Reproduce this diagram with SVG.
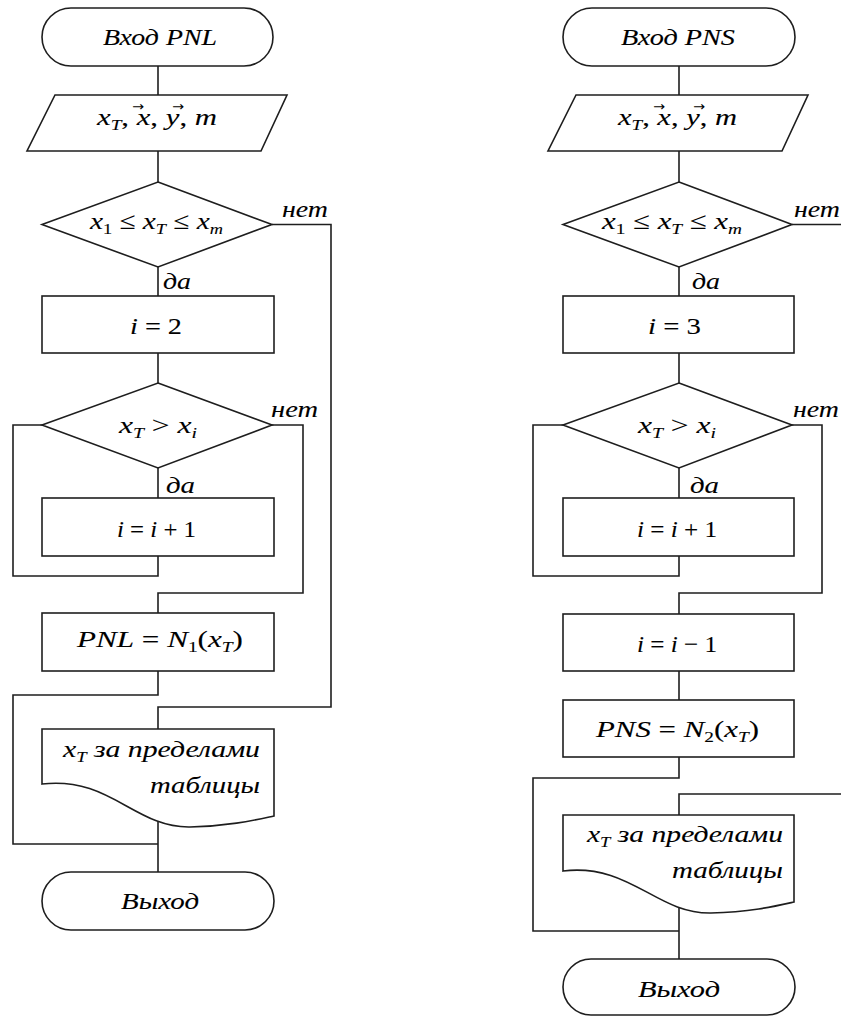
<svg xmlns="http://www.w3.org/2000/svg" width="841" height="1016" viewBox="0 0 841 1016">
<style>
.ln{fill:none;stroke:#1e1e1e;stroke-width:1.6}
.sh{fill:#fff;stroke:#1e1e1e;stroke-width:1.6}
.t{font-family:"Liberation Serif","Times New Roman","DejaVu Serif",serif;font-size:24px;fill:#000;stroke:#000;stroke-width:0.1}
.i{font-style:italic}
.sub{font-size:15px}
.ar{font-family:"DejaVu Sans","Liberation Sans",sans-serif;font-size:13px;fill:#000}
</style>
<rect width="841" height="1016" fill="#fff"/>
<g id="connectors">
<path class="ln" d="M158,66V95M158,151V182M158,267V296M158,353V383M158,468V498"/>
<path class="ln" d="M158,556V576H13V425H42"/>
<path class="ln" d="M272,425H303V593H158V613"/>
<path class="ln" d="M158,671V695H13V844H158"/>
<path class="ln" d="M272,224.5H331V707H158V729"/>
<path class="ln" d="M158,821V872"/>
<path class="ln" d="M679,66V95M679,151V182M679,267V296M679,353V383M679,468V498"/>
<path class="ln" d="M679,556V576H533V425H563"/>
<path class="ln" d="M792,425H822V593H679V614"/>
<path class="ln" d="M679,671V700"/>
<path class="ln" d="M679,757V778H533V931H679"/>
<path class="ln" d="M792,224.5H841"/>
<path class="ln" d="M841,794H679V815"/>
<path class="ln" d="M679,907V959"/>
</g>
<g id="L-start"><rect class="sh" x="42" y="8" width="231" height="58" rx="29"/>
<text class="t i" x="103" y="45" textLength="114" lengthAdjust="spacingAndGlyphs">Вход PNL</text></g>
<g id="L-input"><polygon class="sh" points="55,95 287,95 261,151 27,151"/>
<text class="t" x="97" y="125" textLength="120" lengthAdjust="spacingAndGlyphs"><tspan class="i">x</tspan><tspan class="sub i" dy="5">T</tspan><tspan dy="-5">, </tspan><tspan class="i">x</tspan><tspan>, </tspan><tspan class="i">y</tspan><tspan>, </tspan><tspan class="i">m</tspan></text>
<text class="ar" x="132" y="111" textLength="12" lengthAdjust="spacingAndGlyphs">→</text>
<text class="ar" x="172" y="111" textLength="12" lengthAdjust="spacingAndGlyphs">→</text></g>
<g id="L-cond1"><polygon class="sh" points="158,182 272,224.5 158,267 42,224.5"/>
<text class="t" x="90" y="229" textLength="133" lengthAdjust="spacingAndGlyphs"><tspan class="i">x</tspan><tspan class="sub" dy="5">1</tspan><tspan dy="-5"> ≤ </tspan><tspan class="i">x</tspan><tspan class="sub i" dy="5">T</tspan><tspan dy="-5"> ≤ </tspan><tspan class="i">x</tspan><tspan class="sub i" dy="5">m</tspan></text>
<text class="t i" x="282" y="217" textLength="46" lengthAdjust="spacingAndGlyphs">нет</text>
<text class="t i" x="163" y="289" textLength="28" lengthAdjust="spacingAndGlyphs">да</text></g>
<g id="L-init"><rect class="sh" x="42" y="296" width="232" height="57"/>
<text class="t" x="130" y="334" textLength="52" lengthAdjust="spacingAndGlyphs"><tspan class="i">i</tspan> = 2</text></g>
<g id="L-cond2"><polygon class="sh" points="158,383 272,425 158,468 42,425"/>
<text class="t" x="119" y="433" textLength="78" lengthAdjust="spacingAndGlyphs"><tspan class="i">x</tspan><tspan class="sub i" dy="5">T</tspan><tspan dy="-5"> &gt; </tspan><tspan class="i">x</tspan><tspan class="sub i" dy="5">i</tspan></text>
<text class="t i" x="271" y="417" textLength="47" lengthAdjust="spacingAndGlyphs">нет</text>
<text class="t i" x="166" y="493" textLength="29" lengthAdjust="spacingAndGlyphs">да</text></g>
<g id="L-inc"><rect class="sh" x="42" y="498" width="232" height="58"/>
<text class="t" x="117" y="537" textLength="79" lengthAdjust="spacingAndGlyphs"><tspan class="i">i</tspan> = <tspan class="i">i</tspan> + 1</text></g>
<g id="L-calc"><rect class="sh" x="42" y="613" width="232" height="58"/>
<text class="t" x="77" y="647" textLength="166" lengthAdjust="spacingAndGlyphs"><tspan class="i">PNL</tspan> = <tspan class="i">N</tspan><tspan class="sub" dy="5">1</tspan><tspan dy="-5">(</tspan><tspan class="i">x</tspan><tspan class="sub i" dy="5">T</tspan><tspan dy="-5">)</tspan></text></g>
<g id="L-msg"><path class="sh" d="M42,729H274V816C255,820 230,826 190,827C135,828 110,776 42,784Z"/>
<text class="t i" x="63" y="757" textLength="197" lengthAdjust="spacingAndGlyphs">x<tspan class="sub" dy="5">T</tspan><tspan dy="-5"> за пределами</tspan></text>
<text class="t i" x="150" y="793" textLength="110" lengthAdjust="spacingAndGlyphs">таблицы</text></g>
<g id="L-end"><rect class="sh" x="42" y="872" width="232" height="58" rx="29"/>
<text class="t i" x="121" y="909" textLength="78" lengthAdjust="spacingAndGlyphs">Выход</text></g>

<g id="R-start"><rect class="sh" x="563" y="8" width="232" height="58" rx="29"/>
<text class="t i" x="621" y="45" textLength="114" lengthAdjust="spacingAndGlyphs">Вход PNS</text></g>
<g id="R-input"><polygon class="sh" points="576,95 808,95 782,151 548,151"/>
<text class="t" x="618" y="125" textLength="119" lengthAdjust="spacingAndGlyphs"><tspan class="i">x</tspan><tspan class="sub i" dy="5">T</tspan><tspan dy="-5">, </tspan><tspan class="i">x</tspan><tspan>, </tspan><tspan class="i">y</tspan><tspan>, </tspan><tspan class="i">m</tspan></text>
<text class="ar" x="653" y="111" textLength="12" lengthAdjust="spacingAndGlyphs">→</text>
<text class="ar" x="693" y="111" textLength="12" lengthAdjust="spacingAndGlyphs">→</text></g>
<g id="R-cond1"><polygon class="sh" points="679,182 792,224.5 679,267 563,224.5"/>
<text class="t" x="602" y="229" textLength="140" lengthAdjust="spacingAndGlyphs"><tspan class="i">x</tspan><tspan class="sub" dy="5">1</tspan><tspan dy="-5"> ≤ </tspan><tspan class="i">x</tspan><tspan class="sub i" dy="5">T</tspan><tspan dy="-5"> ≤ </tspan><tspan class="i">x</tspan><tspan class="sub i" dy="5">m</tspan></text>
<text class="t i" x="794" y="217" textLength="46" lengthAdjust="spacingAndGlyphs">нет</text>
<text class="t i" x="692" y="289" textLength="28" lengthAdjust="spacingAndGlyphs">да</text></g>
<g id="R-init"><rect class="sh" x="563" y="296" width="231" height="57"/>
<text class="t" x="648" y="334" textLength="53" lengthAdjust="spacingAndGlyphs"><tspan class="i">i</tspan> = 3</text></g>
<g id="R-cond2"><polygon class="sh" points="679,383 792,425 679,468 563,425"/>
<text class="t" x="638" y="433" textLength="78" lengthAdjust="spacingAndGlyphs"><tspan class="i">x</tspan><tspan class="sub i" dy="5">T</tspan><tspan dy="-5"> &gt; </tspan><tspan class="i">x</tspan><tspan class="sub i" dy="5">i</tspan></text>
<text class="t i" x="793" y="417" textLength="46" lengthAdjust="spacingAndGlyphs">нет</text>
<text class="t i" x="690" y="493" textLength="29" lengthAdjust="spacingAndGlyphs">да</text></g>
<g id="R-inc"><rect class="sh" x="563" y="498" width="231" height="58"/>
<text class="t" x="637" y="537" textLength="80" lengthAdjust="spacingAndGlyphs"><tspan class="i">i</tspan> = <tspan class="i">i</tspan> + 1</text></g>
<g id="R-dec"><rect class="sh" x="563" y="614" width="231" height="57"/>
<text class="t" x="637" y="652" textLength="80" lengthAdjust="spacingAndGlyphs"><tspan class="i">i</tspan> = <tspan class="i">i</tspan> − 1</text></g>
<g id="R-calc"><rect class="sh" x="563" y="700" width="231" height="57"/>
<text class="t" x="596" y="737" textLength="163" lengthAdjust="spacingAndGlyphs"><tspan class="i">PNS</tspan> = <tspan class="i">N</tspan><tspan class="sub" dy="5">2</tspan><tspan dy="-5">(</tspan><tspan class="i">x</tspan><tspan class="sub i" dy="5">T</tspan><tspan dy="-5">)</tspan></text></g>
<g id="R-msg"><path class="sh" d="M563,815H794V902C776,906 751,912 711,913C656,914 631,863 563,871Z"/>
<text class="t i" x="587" y="842" textLength="196" lengthAdjust="spacingAndGlyphs">x<tspan class="sub" dy="5">T</tspan><tspan dy="-5"> за пределами</tspan></text>
<text class="t i" x="672" y="878" textLength="111" lengthAdjust="spacingAndGlyphs">таблицы</text></g>
<g id="R-end"><rect class="sh" x="563" y="959" width="232" height="56" rx="28"/>
<text class="t i" x="638" y="997" textLength="82" lengthAdjust="spacingAndGlyphs">Выход</text></g>
</svg>
